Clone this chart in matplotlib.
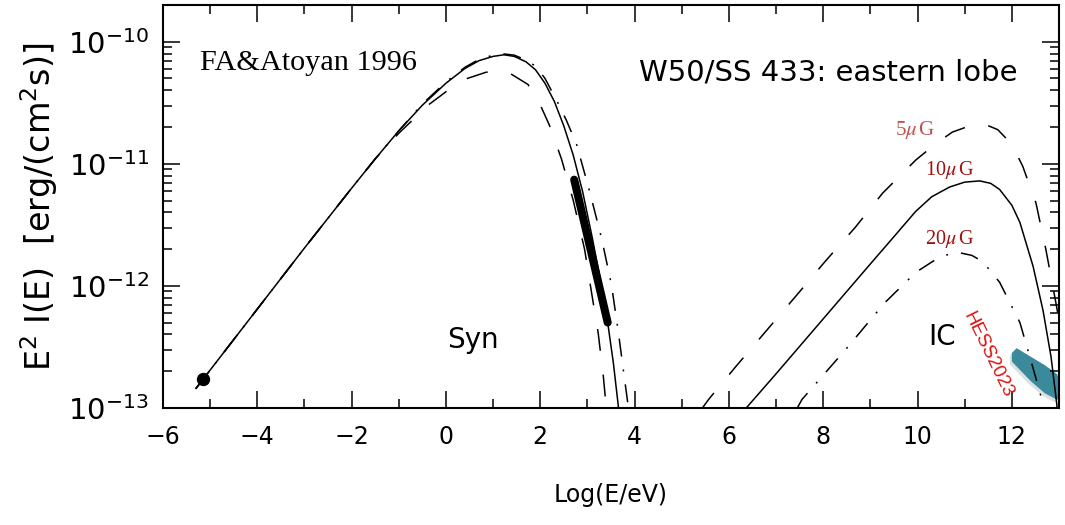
import numpy as np
import matplotlib
matplotlib.use("Agg")
import matplotlib.pyplot as plt
import matplotlib.ticker as mticker
import matplotlib.patheffects as pe

plt.rcParams['lines.scale_dashes'] = False
plt.rcParams['mathtext.fontset'] = 'stix'

# synchrotron curves, log10(E/eV) and log10(E^2 I)
syn_solid_x = [-5.3, -4.0, -3.0, -2.0, -1.5, -1.0, -0.5, 0.0, 0.4, 0.7, 1.0, 1.23, 1.45, 1.7,
               1.9, 2.1, 2.3, 2.5, 2.7, 2.9, 3.1, 3.3, 3.43, 3.55, 3.66, 3.72]
syn_solid_y = [-12.84, -12.19, -11.69, -11.20, -10.96, -10.73, -10.52, -10.34, -10.22, -10.155,
               -10.12, -10.107, -10.12, -10.165, -10.23, -10.34, -10.49, -10.69, -10.93, -11.23,
               -11.6, -12.0, -12.3, -12.63, -13.0, -13.2]

syn_dash_x = [-5.3, -4.0, -3.0, -2.0, -1.5, -1.0, -0.38, 0.0, 0.38, 0.85, 1.1, 1.32, 1.74, 1.98,
              2.19, 2.45, 2.7, 2.94, 3.09, 3.23, 3.34, 3.40, 3.45]
syn_dash_y = [-12.84, -12.19, -11.69, -11.20, -10.96, -10.75, -10.52, -10.41, -10.31, -10.25,
              -10.24, -10.25, -10.35, -10.50, -10.68, -10.96, -11.3, -11.7, -12.06, -12.39,
              -12.75, -13.0, -13.2]

syn_dd_x = [-5.3, -4.0, -3.0, -2.0, -1.5, -1.0, -0.5, 0.0, 0.4, 0.7, 1.0, 1.23, 1.45, 1.7,
            1.9, 2.1, 2.36, 2.55, 2.77, 3.05, 3.3, 3.51, 3.66, 3.79, 3.87, 3.92]
syn_dd_y = [-12.84, -12.19, -11.69, -11.20, -10.96, -10.73, -10.51, -10.33, -10.21, -10.145,
            -10.11, -10.10, -10.11, -10.15, -10.2, -10.3, -10.49, -10.64, -10.84, -11.23,
            -11.61, -11.99, -12.39, -12.77, -13.0, -13.2]

# X-ray segment and radio point
xray_x = [2.72, 3.43]
xray_y = [-11.13, -12.30]
radio_x = [-5.15]
radio_y = [-12.76]

# inverse compton curves for 5, 10, 20 muG
ic5_x = [5.4, 5.57, 6.17, 6.81, 7.45, 8.04, 8.68, 9.26, 9.96, 10.4, 10.74, 11.17, 11.45, 11.7,
         12.0, 12.23, 12.51, 12.72, 12.91, 13.0]
ic5_y = [-13.02, -12.93, -12.65, -12.36, -12.07, -11.80, -11.52, -11.24, -10.97, -10.83,
         -10.74, -10.68, -10.68, -10.72, -10.84, -11.02, -11.32, -11.70, -12.09, -12.28]

ic10_x = [6.3, 7.0, 8.0, 9.0, 9.47, 9.96, 10.3, 10.68, 11.0, 11.32, 11.55, 11.74, 12.0, 12.17,
          12.45, 12.66, 12.83, 12.95, 13.0]
ic10_y = [-13.03, -12.72, -12.27, -11.82, -11.61, -11.39, -11.27, -11.19, -11.15, -11.14,
          -11.16, -11.21, -11.34, -11.48, -11.84, -12.2, -12.58, -12.96, -13.2]

ic20_x = [7.45, 7.55, 8.5, 9.3, 9.96, 10.4, 10.7, 10.91, 11.15, 11.38, 11.74, 12.17, 12.38,
          12.6, 12.7]
ic20_y = [-13.0, -12.93, -12.51, -12.14, -11.89, -11.78, -11.735, -11.73, -11.75, -11.80,
          -11.97, -12.30, -12.58, -12.88, -13.05]

# HESS 2023 band
hess_x = [12.0, 12.1, 12.4, 12.7, 12.95, 13.0]
hess_hi = [-12.55, -12.51, -12.58, -12.65, -12.72, -12.75]
hess_lo = [-12.62, -12.66, -12.78, -12.88, -12.93, -12.93]

y_ticks = [1e-13, 1e-12, 1e-11, 1e-10]


def p(v):
    return 10.0 ** np.array(v)


fig = plt.figure(figsize=(10.65, 5.25), dpi=100)
ax = fig.add_axes([0.153, 0.2229, 0.8414, 0.7676])

lw = 1.1
dash = (0, (15.8, 17.3))
dashdot = (0, (13, 9.4, 1.4, 9.4))

ax.plot(syn_solid_x, p(syn_solid_y), color='black', lw=lw)
ax.plot(syn_dash_x, p(syn_dash_y), color='black', lw=lw, linestyle=dash)
ax.plot(syn_dd_x, p(syn_dd_y), color='black', lw=lw, linestyle=dashdot)
ax.plot(xray_x, p(xray_y), color='black', lw=5.8, solid_capstyle='round')
ax.plot(radio_x, p(radio_y), 'o', color='black', markersize=8.6)

ax.plot(ic5_x, p(ic5_y), color='black', lw=lw, linestyle=dash)
ax.plot(ic10_x, p(ic10_y), color='black', lw=lw)
ax.plot(ic20_x, p(ic20_y), color='black', lw=lw, linestyle=dashdot)

ax.fill_between(hess_x, p(hess_lo), p(hess_hi), color='#3a8a9c', lw=0,
                path_effects=[pe.SimplePatchShadow(offset=(-1.5, -2), alpha=0.14), pe.Normal()])

ax.set_xlim(-6, 13)
ax.set_yscale('log')
ax.set_ylim(1e-13, 2e-10)

ax.xaxis.set_major_locator(mticker.MultipleLocator(2))
ax.xaxis.set_minor_locator(mticker.MultipleLocator(1))
ax.yaxis.set_major_locator(mticker.FixedLocator(y_ticks))
ax.yaxis.set_minor_locator(mticker.LogLocator(base=10, subs=np.arange(2, 10)))
ax.yaxis.set_minor_formatter(mticker.NullFormatter())

ax.tick_params(which='both', direction='in', top=True, right=True, width=1.1)
ax.tick_params(which='major', length=12)
ax.tick_params(which='minor', length=6.5)
ax.tick_params(axis='x', labelsize=17, pad=12)
ax.tick_params(axis='y', labelsize=21, pad=10)
for s in ax.spines.values():
    s.set_linewidth(1.5)

ax.set_xlabel('Log(E/eV)', fontsize=17, labelpad=25)
ax.set_ylabel(r'E$^2$ I(E)  [erg/(cm$^2$s)]', fontsize=24, labelpad=6,
              fontfamily='DejaVu Sans')
ax.yaxis.label.set_math_fontfamily('dejavusans')

ax.text(-5.21, 5.9e-11, 'FA&Atoyan 1996', fontsize=21.8, family='Liberation Serif',
        va='baseline')
ax.text(8.1, 5.6e-11, 'W50/SS 433: eastern lobe', fontsize=21, ha='center', va='center')
ax.text(0.57, 3.6e-13, 'Syn', fontsize=20, ha='center', va='center')
ax.text(10.53, 3.8e-13, 'IC', fontsize=20, ha='center', va='center')

ax.text(9.94, 1.9e-11, r'5$\mu\,$G', fontsize=15, family='Liberation Serif', color='#c0504d',
        ha='center', va='center')
ax.text(10.68, 8.9e-12, r'10$\mu\,$G', fontsize=14.5, family='Liberation Serif', color='#a01010',
        ha='center', va='center')
ax.text(10.68, 2.4e-12, r'20$\mu\,$G', fontsize=14.5, family='Liberation Serif', color='#a01010',
        ha='center', va='center')
ax.text(11.5, 2.7e-13, 'HESS2023', fontsize=13.5, family='Liberation Sans', color='#e01010',
        rotation=-64, ha='center', va='center', rotation_mode='anchor')

fig.savefig('out.png', dpi=100)
